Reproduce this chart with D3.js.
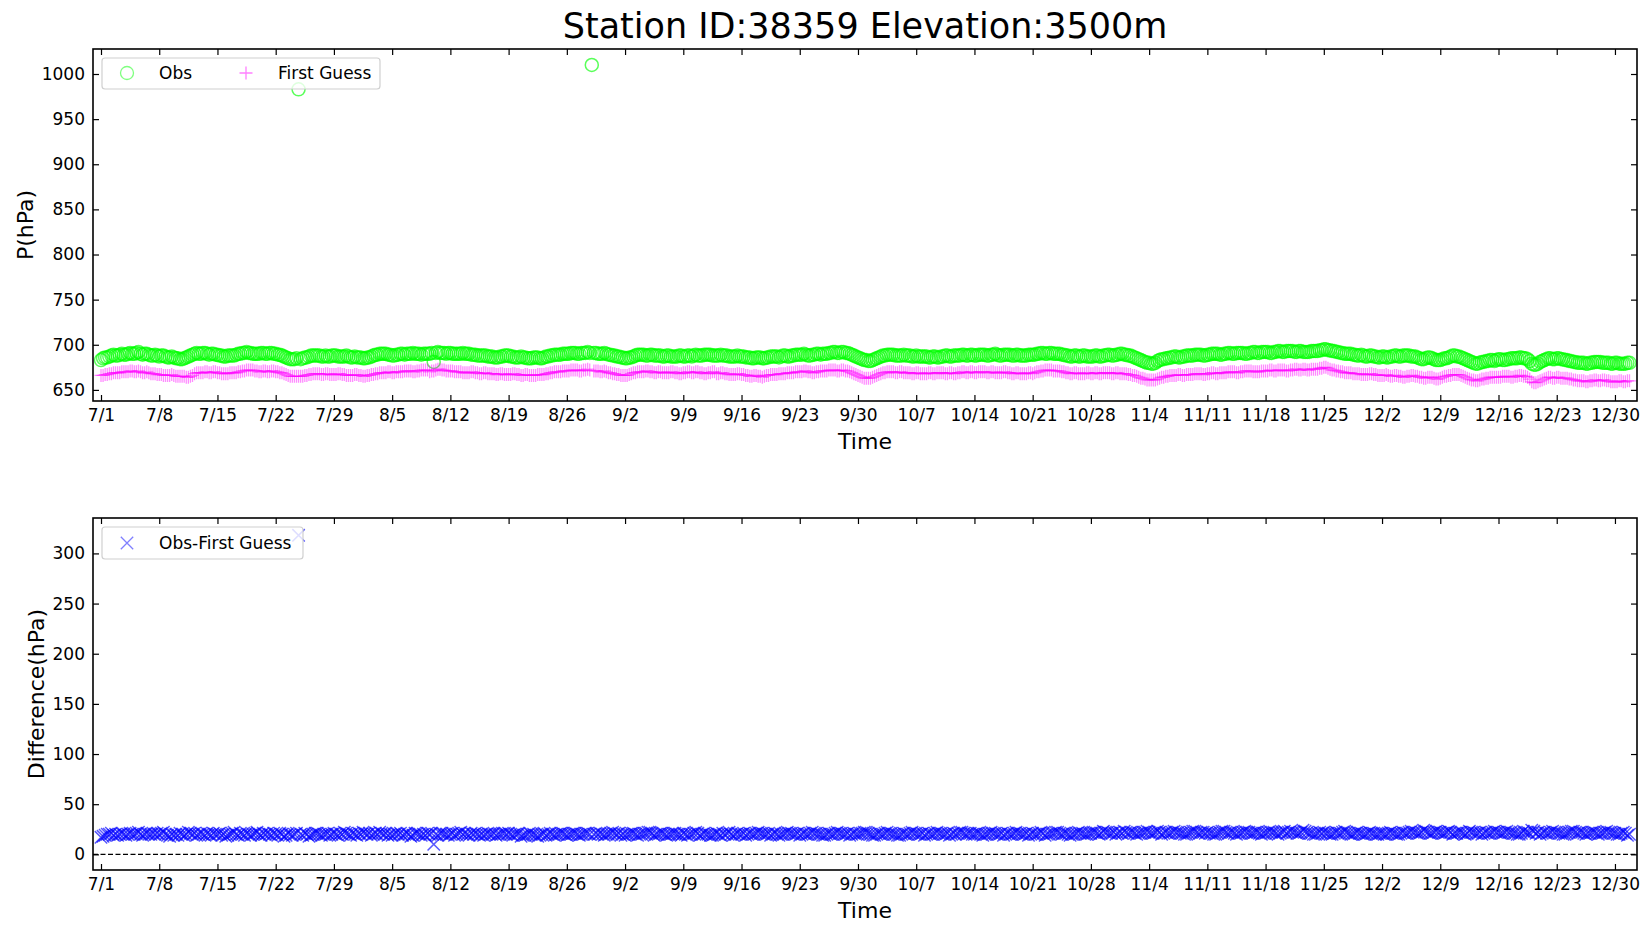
<!DOCTYPE html>
<html><head><meta charset="utf-8">
<script src="https://cdn.jsdelivr.net/npm/d3@7"></script>
<style>
body{margin:0;background:#fff;}
svg{display:block;font-family:"DejaVu Sans",sans-serif;}
</style></head><body>
<svg id="chart" width="1650" height="925"></svg>
<script>
const titleText = "Station ID:38359 Elevation:3500m";
const startDate = "2023-07-01T00:00:00Z";
const stepHours = 6;
const xTickLabels = ["7/1","7/8","7/15","7/22","7/29","8/5","8/12","8/19","8/26","9/2","9/9","9/16","9/23","9/30","10/7","10/14","10/21","10/28","11/4","11/11","11/18","11/25","12/2","12/9","12/16","12/23","12/30"];
const pTicks = [650,700,750,800,850,900,950,1000];
const diffTicks = [0,50,100,150,200,250,300];
const seriesNames = ["Obs","First Guess","Obs-First Guess"];

// 6-hourly values, 7/1 00h .. 12/31 18h (one row = one week)
const obs = [
683,685,686,686,687,688,689,688,688,689,690,689,689,690,691,690,690,691,692,690,689,690,690,689,688,688,689,688,
687,688,688,687,686,686,687,686,685,685,684,684,685,686,687,688,689,690,691,690,690,691,691,690,689,690,690,689,
689,688,688,687,687,688,688,688,688,689,690,690,691,691,692,691,691,690,690,690,690,691,691,690,690,691,691,690,
690,689,689,688,687,686,685,684,684,684,685,983,684,685,686,686,687,688,688,688,688,688,687,687,688,687,687,688,
688,688,687,687,687,687,688,687,686,686,687,686,686,686,685,685,686,686,687,688,689,689,690,690,690,690,689,689,
688,688,689,689,690,690,689,690,690,690,691,690,690,690,689,690,690,690,690,691,681,691,692,691,691,691,690,691,
691,690,690,690,690,690,691,690,690,690,689,689,689,688,688,688,688,688,687,687,687,686,686,686,687,687,688,688,
688,687,687,686,686,686,687,686,686,685,685,685,686,686,686,685,685,686,687,687,688,688,689,689,689,689,690,690,
690,690,691,691,691,690,690,691,691,691,692,691,1010,691,691,690,690,690,691,690,689,689,688,688,687,687,686,686,
685,685,686,686,687,688,689,689,689,689,688,688,689,689,688,688,688,688,687,687,688,688,687,687,687,687,688,688,
687,687,688,688,687,688,689,688,688,688,689,689,689,689,688,688,688,688,689,688,688,688,687,687,687,687,688,687,
687,687,686,686,686,685,685,686,686,686,685,685,686,686,687,687,687,687,686,687,688,688,687,687,688,688,689,689,
689,689,690,689,688,688,689,689,690,690,689,690,690,690,691,691,692,692,691,691,692,692,691,691,690,689,688,687,
686,685,684,683,683,682,682,683,684,685,686,687,688,688,689,689,689,689,688,688,688,688,689,688,688,688,687,687,
688,687,687,687,687,687,686,686,687,687,686,686,687,687,688,688,687,687,688,688,688,688,689,689,688,688,689,689,
688,688,689,689,689,689,688,688,689,689,690,689,688,688,689,689,689,689,688,688,689,689,688,688,688,688,689,689,
689,689,690,690,691,691,690,690,691,691,690,690,690,690,689,689,688,688,687,687,688,688,687,687,688,688,687,687,
687,687,688,688,687,687,688,688,689,689,688,688,689,689,690,690,689,689,688,688,687,686,685,684,683,682,681,680,
680,679,679,680,682,683,684,684,685,685,686,686,687,687,686,686,687,687,688,688,688,688,689,689,689,689,688,688,
689,689,690,690,690,690,689,689,690,690,691,691,690,690,691,691,691,691,690,690,691,691,692,692,691,691,692,692,
692,692,691,691,692,692,693,693,692,692,693,693,693,693,692,692,693,693,692,692,692,692,693,693,693,693,694,694,
695,695,694,694,693,693,692,692,691,691,690,690,690,690,689,689,688,688,689,688,687,687,688,688,687,687,686,686,
687,687,686,686,687,687,688,688,687,687,688,688,688,688,687,687,687,686,685,684,684,685,686,686,685,684,683,683,
683,684,685,685,686,687,688,688,687,687,686,685,684,683,682,681,680,679,679,680,681,681,682,682,683,683,682,683,
684,684,683,683,684,684,685,685,685,685,686,686,685,685,684,682,679,678,678,679,681,682,683,684,685,685,684,684,
685,685,684,684,683,683,682,682,681,681,680,680,680,680,679,679,680,680,681,681,681,681,680,680,680,680,679,679,
680,680,679,679,679,679,680,680
];
const firstGuess = [
666,666,667,667,668,668,669,669,669,669,670,670,670,670,671,671,670,670,671,670,669,669,670,669,668,668,668,667,
667,667,666,666,666,666,667,666,665,665,665,665,665,664,664,665,666,668,669,669,669,669,670,670,669,669,670,670,
669,669,668,668,668,668,669,669,669,669,670,670,671,671,672,672,672,672,671,671,670,670,671,671,670,670,671,671,
670,670,669,669,668,667,666,665,665,665,665,665,665,665,666,666,667,667,668,668,668,668,667,667,668,668,667,667,
667,667,668,668,667,667,666,666,666,666,667,667,666,666,665,665,666,666,667,667,668,668,669,669,669,669,670,670,
669,669,670,670,670,670,671,671,671,671,670,670,671,671,672,672,672,672,670,671,671,672,673,673,672,672,671,671,
671,671,670,670,670,670,669,669,669,669,670,670,669,669,668,668,669,669,668,668,668,668,667,667,668,668,667,667,
667,667,668,668,667,667,666,666,667,667,666,666,666,666,667,667,667,667,668,668,669,669,670,670,670,670,671,671,
671,671,672,672,672,672,671,671,672,672,673,672,null,671,671,671,670,670,671,670,669,669,668,668,667,667,666,666,
666,666,667,668,669,669,670,670,670,670,671,671,670,670,669,669,670,670,669,669,669,669,670,670,669,669,668,668,
669,669,670,670,669,669,670,670,669,669,668,668,669,669,670,670,668,668,669,669,668,668,667,667,667,667,668,668,
667,667,666,666,665,665,666,666,665,665,664,665,666,666,667,667,667,667,668,668,668,668,669,669,669,669,670,670,
670,670,671,671,670,670,669,669,670,670,671,671,671,671,672,672,672,672,671,671,672,672,671,671,670,669,668,667,
666,665,664,663,663,663,663,664,665,666,667,668,669,669,670,670,670,670,669,669,670,670,669,669,669,669,668,668,
669,669,668,668,668,668,669,669,668,668,669,669,669,669,668,668,669,669,668,668,669,669,670,670,669,669,670,670,
669,669,670,670,670,670,669,669,670,670,669,669,669,669,670,670,669,669,668,668,669,669,668,668,668,668,669,669,
668,669,670,670,671,671,672,672,672,672,671,671,671,671,670,670,669,669,668,668,669,669,668,668,668,668,669,669,
668,668,669,669,668,668,669,669,669,669,668,668,669,669,668,668,668,668,667,667,666,666,665,664,663,663,662,661,
661,661,661,661,662,663,664,664,665,665,666,666,666,666,667,667,666,666,667,667,667,667,668,668,668,668,667,667,
668,668,669,669,668,668,669,669,669,669,670,670,670,670,669,669,670,670,671,671,671,671,670,670,670,670,671,671,
671,671,672,672,671,671,672,672,672,672,671,671,672,672,673,673,672,672,673,673,672,672,673,673,673,673,674,674,
675,675,674,673,672,672,671,671,670,670,669,669,669,669,668,668,668,668,667,667,667,667,668,668,667,667,666,666,
666,666,667,666,665,665,666,666,665,665,664,664,665,665,666,666,665,665,664,664,663,663,664,664,664,663,662,662,
663,664,665,665,666,666,667,667,667,667,666,665,664,663,662,661,661,660,660,661,662,662,663,663,664,664,664,664,
664,664,665,665,665,665,664,664,665,665,666,666,665,665,664,662,659,658,658,659,660,661,662,663,664,664,663,663,
664,664,663,663,663,663,662,662,661,661,660,660,660,660,659,659,660,660,661,661,660,660,661,661,660,660,659,659,
659,659,660,660,659,659,660,660
];
const obsMinusFg = [
17,18,19,20,20,21,19,20,19,20,21,20,19,20,21,20,20,21,22,20,19,20,21,20,20,21,20,21,
20,21,22,20,19,18,20,19,20,19,21,20,19,20,22,21,20,21,19,20,21,20,19,21,20,19,21,20,
20,21,19,20,18,19,20,21,22,20,19,21,20,19,21,20,19,20,21,22,20,19,21,20,21,20,19,21,
20,19,21,20,18,19,21,20,19,20,21,318,20,19,21,20,18,19,20,21,21,20,19,20,20,21,19,20,
21,20,19,21,20,22,21,20,19,21,20,19,21,20,22,21,20,21,19,20,21,20,22,21,20,21,19,20,
19,20,21,20,21,19,20,21,20,18,19,21,21,20,19,20,19,21,20,21,10,20,19,21,21,20,20,19,
20,21,19,20,21,22,20,21,20,19,21,20,21,20,19,20,19,20,21,20,20,21,19,20,20,21,21,20,
21,20,19,20,20,21,18,19,19,20,21,20,20,19,18,19,20,21,19,20,21,20,19,20,20,21,21,20,
19,20,20,21,21,20,19,20,20,21,21,20,null,20,21,20,21,20,19,20,20,21,22,21,20,21,19,20,
19,20,20,21,21,20,19,20,20,21,21,22,22,21,19,20,20,21,21,20,19,20,20,21,21,20,20,19,
21,20,19,20,20,21,22,21,19,20,21,20,20,19,19,20,21,20,19,21,20,21,22,20,19,20,21,20,
20,21,19,20,21,20,20,21,22,21,21,20,20,21,19,20,21,20,19,20,20,21,22,21,21,20,20,21,
19,20,21,20,20,21,22,21,21,20,20,19,19,20,21,20,20,21,22,21,21,20,20,21,19,20,21,20,
20,21,21,22,22,21,20,19,19,20,21,20,20,21,22,21,21,20,20,19,19,20,21,20,20,21,22,21,
21,20,20,21,19,20,21,20,20,21,22,21,21,20,20,21,19,20,21,20,21,22,22,21,20,21,21,20,
20,21,21,20,19,20,20,21,22,21,21,20,20,21,19,20,21,20,20,21,22,21,21,20,20,21,19,20,
21,20,20,21,22,21,19,20,20,21,21,22,22,21,20,21,21,20,19,20,20,21,22,21,21,20,20,21,
21,22,22,21,20,21,23,22,22,21,21,22,20,21,22,21,23,22,21,22,22,21,20,21,21,22,22,23,
22,21,21,22,23,22,20,21,22,21,21,22,23,22,22,21,21,20,20,21,22,23,23,22,21,22,22,21,
22,21,21,20,20,21,22,23,23,22,21,22,22,21,20,21,21,22,23,22,22,21,21,22,22,21,20,21,
21,22,23,22,22,21,20,21,22,23,21,22,23,22,22,21,21,22,24,23,22,21,21,20,20,21,22,21,
22,21,21,20,20,21,22,21,21,22,23,22,21,20,20,21,22,21,21,20,20,21,22,21,21,20,20,21,
21,20,20,21,22,21,21,20,20,21,22,21,21,22,23,22,22,21,21,22,24,23,22,21,21,22,23,22,
22,21,21,22,23,22,20,21,21,22,22,21,20,21,23,22,22,21,21,22,20,21,22,21,21,22,23,22,
22,21,21,22,23,22,22,21,21,20,20,21,23,22,22,21,24,23,21,22,20,21,22,21,21,22,23,22,
22,21,21,20,20,21,22,23,23,22,21,22,22,21,20,21,21,22,22,21,20,21,21,22,23,22,22,21,
21,20,20,21,22,21,19,20
];

const DAY = 864e5;
const t0 = Date.parse(startDate);
const times = obs.map((_, i) => new Date(t0 + i * stepHours * 3600e3));
const tickDates = xTickLabels.map(s => { const [m, d] = s.split("/").map(Number); return new Date(Date.UTC(2023, m - 1, d)); });

const svg = d3.select("#chart");
const L = 93, R = 1637;
const x = d3.scaleUtc().domain([new Date(t0 - 0.962 * DAY), new Date(t0 + 184.65 * DAY)]).range([L, R]);

const COL_OBS = "#00ff00", COL_FG = "#ff00ff", COL_DIFF = "#0000ff";
const MS = 6.5;

svg.append("text").attr("x", 865).attr("y", 38).attr("text-anchor", "middle")
  .attr("font-size", 35).attr("fill", "#000").text(titleText);

function panel(id, top, bottom, yDomain, yTicks, yLabel, yLabelX) {
  const y = d3.scaleLinear().domain(yDomain).range([bottom, top]);
  const g = svg.append("g");
  svg.append("clipPath").attr("id", "clip" + id).append("rect")
    .attr("x", L).attr("y", top).attr("width", R - L).attr("height", bottom - top);
  const styleAxis = (ax) => {
    ax.select(".domain").remove();
    ax.selectAll(".tick line").attr("stroke", "#000").attr("stroke-width", 1.2);
    ax.selectAll(".tick text").attr("font-size", 17).attr("fill", "#000").attr("font-family", "DejaVu Sans");
  };
  g.append("g").attr("transform", `translate(0,${bottom})`)
    .call(d3.axisBottom(x).tickValues(tickDates).tickFormat((d, i) => xTickLabels[i]).tickSizeInner(-6).tickSizeOuter(0).tickPadding(8))
    .call(styleAxis);
  g.append("g").attr("transform", `translate(0,${top})`)
    .call(d3.axisTop(x).tickValues(tickDates).tickFormat("").tickSizeInner(-6).tickSizeOuter(0))
    .call(styleAxis);
  g.append("g").attr("transform", `translate(${L},0)`)
    .call(d3.axisLeft(y).tickValues(yTicks).tickFormat(d3.format("d")).tickSizeInner(-6).tickSizeOuter(0).tickPadding(8))
    .call(styleAxis);
  g.append("g").attr("transform", `translate(${R},0)`)
    .call(d3.axisRight(y).tickValues(yTicks).tickFormat("").tickSizeInner(-6).tickSizeOuter(0))
    .call(styleAxis);
  g.append("text").attr("transform", `translate(${yLabelX},${(top + bottom) / 2}) rotate(-90)`)
    .attr("text-anchor", "middle").attr("font-size", 22).attr("fill", "#000").text(yLabel);
  g.append("text").attr("x", 865).attr("y", bottom + 48).attr("text-anchor", "middle")
    .attr("font-size", 22).attr("fill", "#000").text("Time");
  const plot = svg.append("g").attr("clip-path", `url(#clip${id})`);
  return { y, plot, top, bottom };
}

function frame(p) {
  svg.append("rect").attr("x", L).attr("y", p.top).attr("width", R - L).attr("height", p.bottom - p.top)
    .attr("fill", "none").attr("stroke", "#000").attr("stroke-width", 1.6);
}

const XS = 6.2;
const plusPath = `M${-MS},0H${MS}M0,${-MS}V${MS}`;
const xPath = `M${-XS},${-XS}L${XS},${XS}M${-XS},${XS}L${XS},${-XS}`;

// Top panel
const p1 = panel(1, 49, 401, [637.7, 1027.7], pTicks, "P(hPa)", 33);
const obsData = obs.map((v, i) => ({ t: times[i], v })).filter(d => d.v != null);
const fgData = firstGuess.map((v, i) => ({ t: times[i], v })).filter(d => d.v != null);
p1.plot.selectAll("circle.obs").data(obsData).join("circle").attr("class", "obs")
  .attr("cx", d => x(d.t)).attr("cy", d => p1.y(d.v)).attr("r", MS)
  .attr("fill", "none").attr("stroke", COL_OBS).attr("stroke-opacity", 0.65).attr("stroke-width", 1.5);
p1.plot.selectAll("path.fg").data(fgData).join("path").attr("class", "fg")
  .attr("transform", d => `translate(${x(d.t)},${p1.y(d.v)})`).attr("d", plusPath)
  .attr("fill", "none").attr("stroke", COL_FG).attr("stroke-opacity", 0.45).attr("stroke-width", 1.3);
frame(p1);

// Bottom panel
const p2 = panel(2, 518, 870, [-15.6, 335.3], diffTicks, "Difference(hPa)", 44);
p2.plot.append("line").attr("x1", L).attr("x2", R).attr("y1", p2.y(0)).attr("y2", p2.y(0))
  .attr("stroke", "#000").attr("stroke-width", 1.2).attr("stroke-dasharray", "5,2.5");
const diffData = obsMinusFg.map((v, i) => ({ t: times[i], v })).filter(d => d.v != null);
p2.plot.selectAll("path.df").data(diffData).join("path").attr("class", "df")
  .attr("transform", d => `translate(${x(d.t)},${p2.y(d.v)})`).attr("d", xPath)
  .attr("fill", "none").attr("stroke", COL_DIFF).attr("stroke-opacity", 0.65).attr("stroke-width", 1.5);
frame(p2);

// Legends
function legendBox(x0, y0, w, h) {
  svg.append("rect").attr("x", x0).attr("y", y0).attr("width", w).attr("height", h).attr("rx", 3)
    .attr("fill", "#fff").attr("fill-opacity", 0.8).attr("stroke", "#d0d0d0").attr("stroke-width", 1.2);
}
legendBox(102, 58, 278, 31);
svg.append("circle").attr("cx", 127).attr("cy", 73).attr("r", MS).attr("fill", "none")
  .attr("stroke", COL_OBS).attr("stroke-opacity", 0.5).attr("stroke-width", 1.3);
svg.append("text").attr("x", 159).attr("y", 79).attr("font-size", 17).text(seriesNames[0]);
svg.append("path").attr("transform", "translate(246,73)").attr("d", plusPath).attr("fill", "none")
  .attr("stroke", COL_FG).attr("stroke-opacity", 0.5).attr("stroke-width", 1.3);
svg.append("text").attr("x", 278).attr("y", 79).attr("font-size", 17).text(seriesNames[1]);

legendBox(102, 527, 201, 32);
svg.append("path").attr("transform", "translate(127,543)").attr("d", xPath).attr("fill", "none")
  .attr("stroke", COL_DIFF).attr("stroke-opacity", 0.5).attr("stroke-width", 1.3);
svg.append("text").attr("x", 159).attr("y", 549).attr("font-size", 17).text(seriesNames[2]);
</script>
</body></html>
